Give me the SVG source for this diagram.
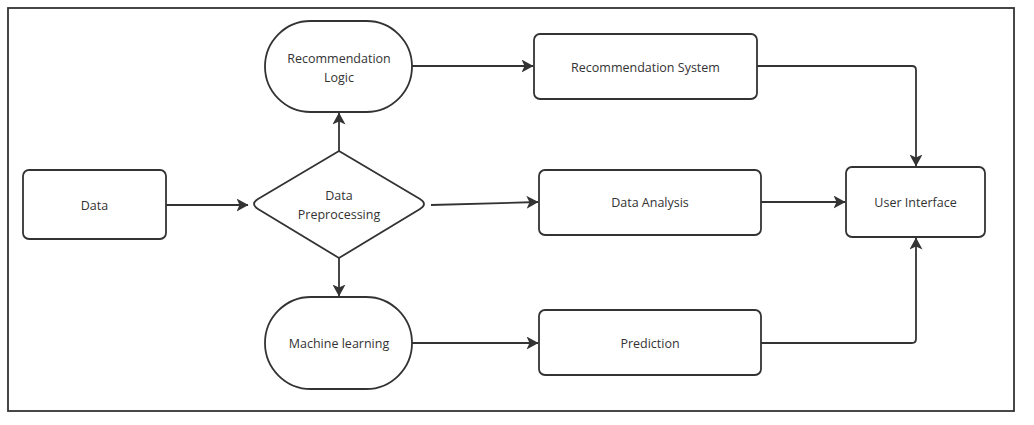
<svg xmlns="http://www.w3.org/2000/svg" width="1034" height="425" viewBox="0 0 1034 425">
<style>
.n{fill:#fff;stroke:#333;stroke-width:1.8}
.t{font-family:"Open Sans",sans-serif;font-size:12.5px;fill:#333;text-anchor:middle;dominant-baseline:central}
.c{fill:none;stroke:#333;stroke-width:1.8;marker-end:url(#ah)}
</style>
<defs>
<marker id="ah" viewBox="0 0 12 13" refX="11.5" refY="6.5" markerWidth="12" markerHeight="13" markerUnits="userSpaceOnUse" orient="auto">
<path d="M0,0 L12,6.5 L0,13 L3,6.5 Z" fill="#333"/>
</marker>
</defs>
<rect width="1034" height="425" fill="#fff"/>
<rect x="8" y="8" width="1006" height="403" fill="none" stroke="#333" stroke-width="1.8"/>
<g id="connectors">
<path class="c" d="M166,205 L248,205"/>
<path class="c" d="M339,151 L339,113"/>
<path class="c" d="M339,258 L339,296"/>
<path class="c" d="M412,66 L533,66"/>
<path class="c" d="M431,205 L538,202"/>
<path class="c" d="M412,343 L538,343"/>
<path class="c" d="M761,202 L845,202"/>
<path class="c" d="M757,66 L912,66 Q916,66 916,70 L916,166"/>
<path class="c" d="M761,343 L912,343 Q916,343 916,339 L916,238"/>
</g>
<g id="data"><rect class="n" x="23" y="170" width="143" height="69" rx="6"/><text class="t" x="94.5" y="205">Data</text></g>
<g id="preprocessing"><path class="n" d="M339,151 L420,199 Q428,204 420,209 L339,258 L258,209 Q250,204 258,199 Z"/><text class="t" x="339" y="195">Data</text><text class="t" x="339" y="214">Preprocessing</text></g>
<g id="recommendation-logic"><rect class="n" x="265" y="21" width="147" height="91" rx="45.5"/><text class="t" x="339" y="58">Recommendation</text><text class="t" x="339" y="77">Logic</text></g>
<g id="machine-learning"><rect class="n" x="265" y="297" width="147" height="92" rx="46"/><text class="t" x="339" y="343">Machine learning</text></g>
<g id="recommendation-system"><rect class="n" x="534" y="34" width="223" height="65" rx="6"/><text class="t" x="645.5" y="67">Recommendation System</text></g>
<g id="data-analysis"><rect class="n" x="539" y="170" width="222" height="65" rx="6"/><text class="t" x="650" y="202">Data Analysis</text></g>
<g id="prediction"><rect class="n" x="539" y="310" width="222" height="65" rx="6"/><text class="t" x="650" y="343">Prediction</text></g>
<g id="user-interface"><rect class="n" x="846" y="167" width="139" height="70" rx="6"/><text class="t" x="915.5" y="202">User Interface</text></g>
</svg>
